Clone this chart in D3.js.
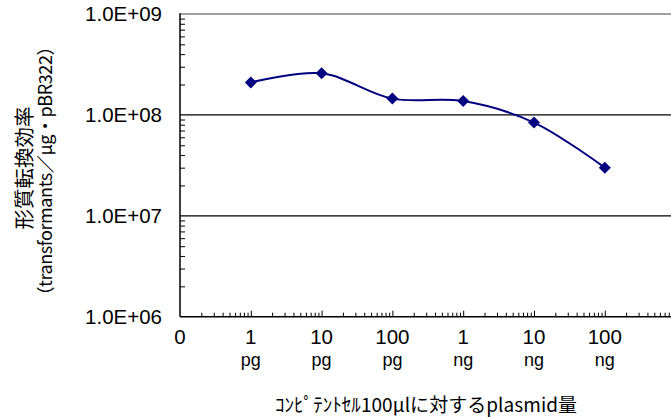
<!DOCTYPE html>
<html><head><meta charset="utf-8">
<script src="https://cdn.jsdelivr.net/npm/d3@7"></script>
<style>
html,body{margin:0;padding:0;background:#fff;}
svg{display:block;}
</style></head>
<body>
<svg id="c" width="671" height="419"></svg>
<script>
// data
const amountsPg = [1, 10, 100, 1000, 10000, 100000];
const efficiency = [2.1e8, 2.58e8, 1.45e8, 1.37e8, 8.4e7, 3.0e7];
const xTickValues = [0.1, 1, 10, 100, 1000, 10000, 100000];
const xTickNumbers = ["0", "1", "10", "100", "1", "10", "100"];
const xTickUnits = ["", "pg", "pg", "pg", "ng", "ng", "ng"];
const yTickValues = [1e6, 1e7, 1e8, 1e9];
const yTickLabels = ["1.0E+06", "1.0E+07", "1.0E+08", "1.0E+09"];
const yGridValues = [1e7, 1e8];
const xTitle = "ｺﾝﾋﾟﾃﾝﾄｾﾙ100μlに対するplasmid量";
const yTitle1 = "形質転換効率";
const yTitle2 = "（transformants／μg・pBR322）";

const svg = d3.select("#c");
const W = 671;
const x = d3.scaleLog().domain([0.1, 1e6]).range([180, 675.6]);
const y = d3.scaleLog().domain([1e6, 1e9]).range([316.7, 14]);
const navy = "#000080";
const numFont = "'Liberation Sans', Arial, sans-serif";
const jpFont = "'Noto Sans CJK JP', sans-serif";

// minor tick values
const xMinor = [];
for (let d = 0.1; d < 1e6; d *= 10) for (let k = 2; k <= 9; k++) xMinor.push(+(k * d).toPrecision(3));
const yMinor = [];
for (let d = 1e6; d < 1e9; d *= 10) for (let k = 2; k <= 9; k++) yMinor.push(k * d);

// gridlines
svg.append("g").selectAll("line").data(yGridValues).join("line")
  .attr("x1", x.range()[0]).attr("x2", W)
  .attr("y1", d => y(d)).attr("y2", d => y(d))
  .attr("stroke", "#000").attr("stroke-width", 1.3);
// top border (gray)
svg.append("line").attr("x1", x.range()[0]).attr("x2", W)
  .attr("y1", y(1e9)).attr("y2", y(1e9))
  .attr("stroke", "#808080").attr("stroke-width", 1.5);

// x axis ticks
const gx = svg.append("g").attr("transform", `translate(0,${y(1e6)})`);
gx.call(d3.axisBottom(x).tickValues(xMinor).tickSize(-4).tickFormat(""));
gx.select(".domain").remove();
const gxMaj = svg.append("g").attr("transform", `translate(0,${y(1e6)})`);
gxMaj.call(d3.axisBottom(x).tickValues(xTickValues.slice(1)).tickSize(-6).tickFormat(""));
gxMaj.select(".domain").remove();
svg.selectAll(".tick line").attr("stroke", "#000").attr("stroke-width", 1);
svg.append("line").attr("x1", x.range()[0]).attr("x2", W)
  .attr("y1", y(1e6)).attr("y2", y(1e6)).attr("stroke", "#000").attr("stroke-width", 1.5);

// y axis ticks
const gy = svg.append("g").attr("transform", `translate(${x.range()[0]},0)`);
gy.call(d3.axisLeft(y).tickValues(yMinor).tickSize(-5).tickFormat(""));
gy.select(".domain").remove();
gy.selectAll(".tick line").attr("stroke", "#000");
svg.append("line").attr("x1", x.range()[0]).attr("x2", x.range()[0])
  .attr("y1", y(1e9) - 0.8).attr("y2", y(1e6)).attr("stroke", "#000").attr("stroke-width", 1.5);

// y tick labels
svg.append("g").selectAll("text").data(yTickValues).join("text")
  .attr("x", 162).attr("y", d => y(d)).attr("dy", "0.36em")
  .attr("text-anchor", "end").attr("font-family", numFont).attr("font-size", 20.5)
  .text((d, i) => yTickLabels[i]);

// x tick labels
const xl = svg.append("g").selectAll("g").data(xTickValues).join("g");
xl.append("text").attr("x", d => x(d)).attr("y", 344)
  .attr("text-anchor", "middle").attr("font-family", numFont).attr("font-size", 20.5)
  .text((d, i) => xTickNumbers[i]);
xl.append("text").attr("x", d => x(d)).attr("y", 366)
  .attr("text-anchor", "middle").attr("font-family", numFont).attr("font-size", 18)
  .text((d, i) => xTickUnits[i]);

// x title
svg.append("text").attr("x", 426).attr("y", 412).attr("text-anchor", "middle")
  .attr("font-family", jpFont).attr("font-size", 19)
  .attr("textLength", 302).attr("lengthAdjust", "spacing").text(xTitle);

// y title
svg.append("text").attr("transform", "translate(32,168) rotate(-90)")
  .attr("text-anchor", "middle").attr("font-family", jpFont).attr("font-size", 20.5).text(yTitle1);
svg.append("text").attr("transform", "translate(52,171) rotate(-90)")
  .attr("text-anchor", "middle").attr("font-family", jpFont).attr("font-size", 18)
  .attr("textLength", 267).attr("lengthAdjust", "spacing").text(yTitle2);

// line
const pts = amountsPg.map((v, i) => [x(v), y(efficiency[i])]);
svg.append("path").datum(pts)
  .attr("d", d3.line().curve(d3.curveCatmullRom.alpha(0.5)))
  .attr("fill", "none").attr("stroke", navy).attr("stroke-width", 2);

// markers
const r = 6;
svg.append("g").selectAll("path").data(pts).join("path")
  .attr("d", d => `M${d[0]},${d[1]-r}L${d[0]+r},${d[1]}L${d[0]},${d[1]+r}L${d[0]-r},${d[1]}Z`)
  .attr("fill", navy);
</script>
</body></html>
